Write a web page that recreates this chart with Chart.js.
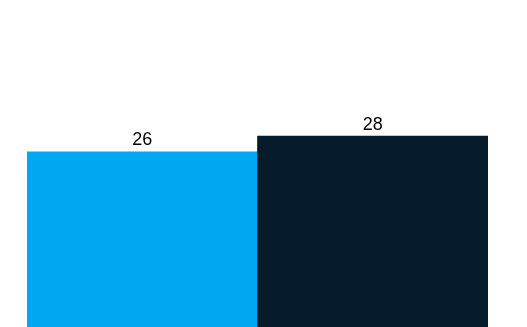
<!DOCTYPE html>
<html>
<head>
<meta charset="utf-8">
<script src="https://cdn.jsdelivr.net/npm/chart.js@4"></script>
<style>
  html, body { margin: 0; padding: 0; background: #fff; overflow: hidden; }
  #wrap { position: relative; width: 527px; height: 356px; }
</style>
</head>
<body>
<div id="wrap"><canvas id="chart"></canvas></div>
<script>
const categories = ["A", "B"];
const values = [26, 28];
const barColors = ["#00A8F2", "#061C2D"];

// Writes each bar's value just above its top edge
const valueLabels = {
  id: "valueLabels",
  afterDatasetsDraw(chart) {
    const ctx = chart.ctx;
    const meta = chart.getDatasetMeta(0);
    ctx.save();
    ctx.font = "18px 'Liberation Sans', Arial, sans-serif";
    ctx.fillStyle = "#000";
    ctx.textAlign = "center";
    ctx.textBaseline = "alphabetic";
    meta.data.forEach((bar, i) => {
      ctx.fillText(String(values[i]), bar.x, bar.y - 6.5);
    });
    ctx.restore();
  }
};

new Chart(document.getElementById("chart"), {
  type: "bar",
  data: {
    labels: categories,
    datasets: [{
      data: values,
      backgroundColor: barColors,
      borderWidth: 0,
      categoryPercentage: 1,
      barPercentage: 1
    }]
  },
  options: {
    responsive: true,
    maintainAspectRatio: false,
    animation: false,
    layout: { padding: { left: 27, right: 39, top: 42, bottom: 0 } },
    plugins: { legend: { display: false }, tooltip: { enabled: false } },
    scales: {
      x: { display: false },
      y: { display: false, min: 0, max: 40 }
    }
  },
  plugins: [valueLabels]
});
</script>
</body>
</html>
